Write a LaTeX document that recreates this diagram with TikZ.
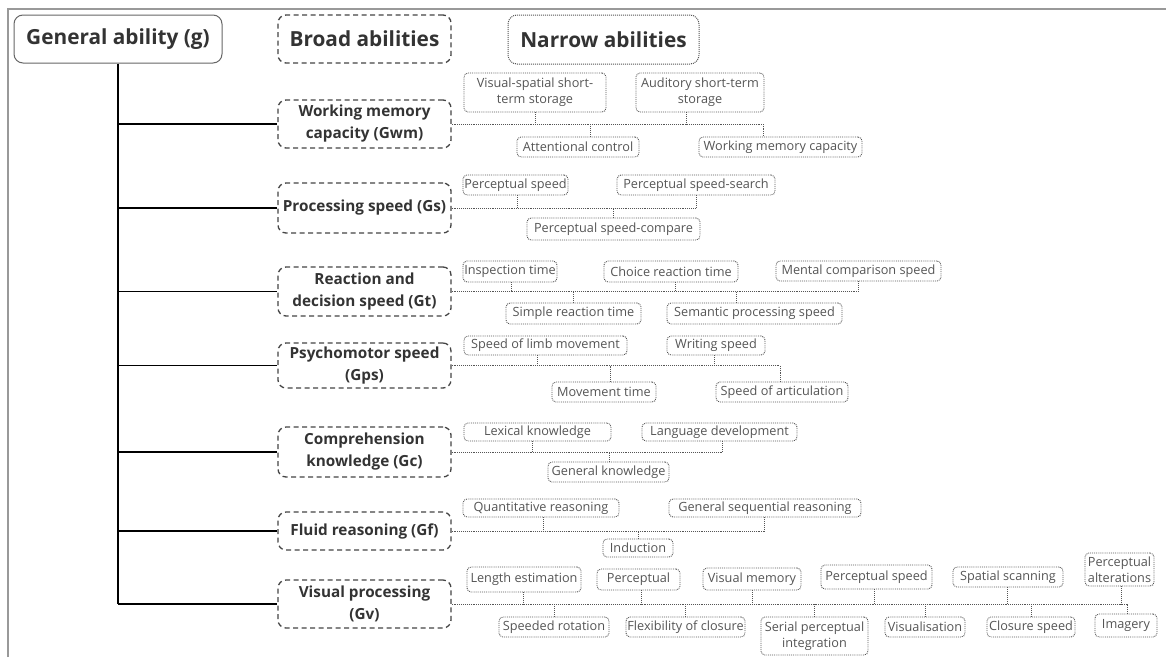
\documentclass[tikz,border=0pt]{standalone}
\usepackage{fontspec}
\setmainfont{Open Sans}
\definecolor{nar}{HTML}{555555}
\definecolor{brd}{HTML}{444444}
\definecolor{txt}{HTML}{333333}
\tikzset{
  nbox/.style={draw=nar, densely dotted, line width=0.9pt, rounded corners=4pt, inner sep=0pt, align=center, text=nar, font=\fontsize{12.7}{16}\selectfont},
  bbox/.style={draw=brd, dash pattern=on 5pt off 3.5pt, line width=1.3pt, rounded corners=8pt, inner sep=0pt, align=center, text=txt, font=\bfseries\fontsize{15.3}{22}\selectfont},
  rootbox/.style={draw=black!60, line width=1pt, rounded corners=9pt, inner sep=0pt, align=center, text=txt, font=\bfseries\fontsize{20.8}{24}\selectfont},
  headb/.style={bbox, font=\bfseries\fontsize{20.8}{24}\selectfont},
  headn/.style={draw=nar, densely dotted, line width=1pt, rounded corners=9pt, inner sep=0pt, align=center, text=txt, font=\bfseries\fontsize{20.8}{24}\selectfont},
  conn/.style={draw=nar, densely dotted, line width=0.9pt},
  branch/.style={draw=black, line width=1.2pt},
  trunk/.style={draw=black, line width=2.6pt},
  frame/.style={draw=black!40, line width=2pt},
}
\newcommand{\boxat}[7]{\node[#1, minimum width={(#5-#3)*1pt}, minimum height={(#6-#4)*1pt}] (#2) at ({(#3+#5)/2},{(#4+#6)/2}) {#7};}
\newcommand{\uptick}[3]{\draw[conn] ([xshift=#3pt]#1.south) -- ([xshift=#3pt]#1.south |- #2.east);}
\newcommand{\downtick}[3]{\draw[conn] ([xshift=#3pt]#1.north) -- ([xshift=#3pt]#1.north |- #2.east);}
\begin{document}
\begin{tikzpicture}[x=1pt,y=-1pt]
\useasboundingbox (0,0) rectangle (1166,657);
\draw[frame] (8,657) -- (8,9) -- (1166,9);
% headers
\boxat{rootbox}{root}{14}{15}{222}{63}{General ability (g)}
\boxat{headb}{hb}{278}{15}{451}{63}{Broad abilities}
\boxat{headn}{hn}{508}{15}{699}{64}{Narrow abilities}
% broad abilities
\boxat{bbox}{gwm}{278}{100}{451}{148}{Working memory\\capacity (Gwm)}
\boxat{bbox}{gs}{278}{183}{451}{233}{Processing speed (Gs)}
\boxat{bbox}{gt}{278}{267}{451}{316}{Reaction and\\decision speed (Gt)}
\boxat{bbox}{gps}{278}{343}{451}{388}{Psychomotor speed\\(Gps)}
\boxat{bbox}{gc}{278}{427}{451}{477}{Comprehension\\knowledge (Gc)}
\boxat{bbox}{gf}{278}{512}{451}{550}{Fluid reasoning (Gf)}
\boxat{bbox}{gv}{278}{580}{451}{628}{Visual processing\\(Gv)}
% narrow: Gwm
\boxat{nbox}{vss}{464}{73}{606}{112}{Visual-spatial short-\\term storage}
\boxat{nbox}{aud}{636}{73}{764}{112}{Auditory short-term\\storage}
\boxat{nbox}{att}{517}{137}{639}{157}{Attentional control}
\boxat{nbox}{wmc}{699}{137}{862}{157}{Working memory capacity}
% Gs
\boxat{nbox}{ps}{463}{175}{568}{195}{Perceptual speed}
\boxat{nbox}{pss}{617}{175}{775}{195}{Perceptual speed-search}
\boxat{nbox}{psc}{527}{218}{700}{240}{Perceptual speed-compare}
% Gt
\boxat{nbox}{it}{463}{261}{557}{282}{Inspection time}
\boxat{nbox}{crt}{604}{261}{738}{282}{Choice reaction time}
\boxat{nbox}{mcs}{776}{261}{941}{281}{Mental comparison speed}
\boxat{nbox}{srt}{506}{303}{641}{324}{Simple reaction time}
\boxat{nbox}{sps}{667}{303}{842}{324}{Semantic processing speed}
% Gps
\boxat{nbox}{slm}{464}{336}{627}{355}{Speed of limb movement}
\boxat{nbox}{ws}{667}{336}{765}{355}{Writing speed}
\boxat{nbox}{mt}{552}{382}{656}{402}{Movement time}
\boxat{nbox}{soa}{716}{382}{848}{402}{Speed of articulation}
% Gc
\boxat{nbox}{lk}{464}{423}{611}{441}{Lexical knowledge}
\boxat{nbox}{ld}{642}{423}{797}{441}{Language development}
\boxat{nbox}{gk}{548}{462}{669}{482}{General knowledge}
% Gf
\boxat{nbox}{qr}{463}{499}{619}{517}{Quantitative reasoning}
\boxat{nbox}{gsr}{669}{499}{861}{517}{General sequential reasoning}
\boxat{nbox}{ind}{603}{539}{673}{557}{Induction}
% Gv
\boxat{nbox}{le}{467}{567}{581}{592}{Length estimation}
\boxat{nbox}{perc}{597}{569}{680}{590}{Perceptual}
\boxat{nbox}{vm}{703}{568}{801}{590}{Visual memory}
\boxat{nbox}{psp}{821}{565}{932}{589}{Perceptual speed}
\boxat{nbox}{ss}{953}{567}{1063}{587}{Spatial scanning}
\boxat{nbox}{pa}{1085}{553}{1154}{586}{Perceptual\\alterations}
\boxat{nbox}{sr}{499}{617}{609}{637}{Speeded rotation}
\boxat{nbox}{foc}{626}{617}{745}{637}{Flexibility of closure}
\boxat{nbox}{spi}{761}{617}{868}{655}{Serial perceptual\\integration}
\boxat{nbox}{vis}{885}{617}{965}{637}{Visualisation}
\boxat{nbox}{cs}{987}{617}{1075}{637}{Closure speed}
\boxat{nbox}{img}{1095}{614}{1157}{637}{Imagery}
% trunk and branches
\draw[trunk] (root.south) -- (root.south |- gv.west);
\foreach \b in {gwm,gs,gt,gps,gc,gf,gv}{\draw[branch] (root.south |- \b.west) -- (\b.west);}
% Gwm connectors
\draw[conn] (gwm.east) -- ([xshift=-17pt]wmc.north |- gwm.east) -- ([xshift=-17pt]wmc.north);
\uptick{vss}{gwm}{0}\uptick{aud}{gwm}{-14}\downtick{att}{gwm}{12}
% Gs
\draw[conn] (gs.east) -- (pss.south |- gs.east);
\uptick{ps}{gs}{1.5}\uptick{pss}{gs}{0}\downtick{psc}{gs}{0}
% Gt
\draw[conn] (gt.east) -- (mcs.south |- gt.east);
\uptick{it}{gt}{1}\uptick{crt}{gt}{4}\uptick{mcs}{gt}{0}
\downtick{srt}{gt}{0}\downtick{sps}{gt}{-18}
% Gps
\draw[conn] (gps.east) -- ([xshift=-2pt]soa.north |- gps.east) -- ([xshift=-2pt]soa.north);
\uptick{slm}{gps}{-8}\uptick{ws}{gps}{-2}\downtick{mt}{gps}{6}
% Gc
\draw[conn] (gc.east) -- ([xshift=3pt]ld.south |- gc.east);
\uptick{lk}{gc}{-5}\uptick{ld}{gc}{3}\downtick{gk}{gc}{1}
% Gf
\draw[conn] (gf.east) -- ([xshift=-1pt]gsr.south |- gf.east);
\uptick{qr}{gf}{2}\uptick{gsr}{gf}{-1}\downtick{ind}{gf}{0}
% Gv
\draw[conn] (gv.east) -- ([xshift=1pt]img.north |- gv.east) -- ([xshift=1pt]img.north);
\uptick{le}{gv}{-1}\uptick{perc}{gv}{3}\uptick{vm}{gv}{0}\uptick{psp}{gv}{-2}\uptick{ss}{gv}{-1}\uptick{pa}{gv}{2}
\downtick{sr}{gv}{0}\downtick{foc}{gv}{0}\downtick{spi}{gv}{0}\downtick{vis}{gv}{0}\downtick{cs}{gv}{0}
\end{tikzpicture}
\end{document}
